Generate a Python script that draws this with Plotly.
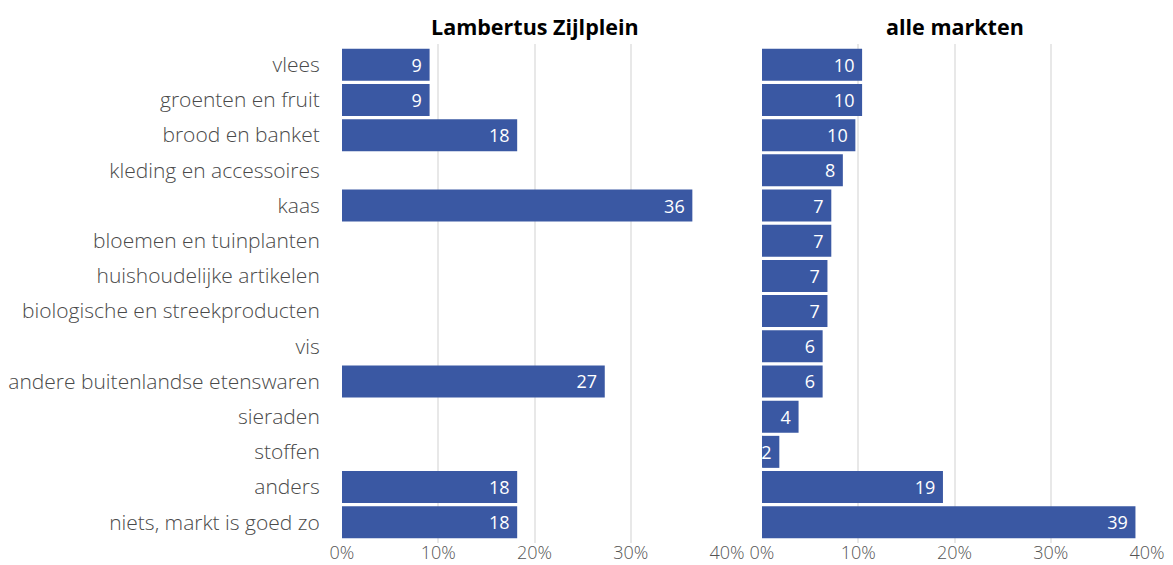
import plotly.graph_objects as go

categories = [
    "vlees", "groenten en fruit", "brood en banket", "kleding en accessoires",
    "kaas", "bloemen en tuinplanten", "huishoudelijke artikelen",
    "biologische en streekproducten", "vis", "andere buitenlandse etenswaren",
    "sieraden", "stoffen", "anders", "niets, markt is goed zo",
]
lambertus = [9.1, 9.1, 18.2, 0, 36.4, 0, 0, 0, 0, 27.3, 0, 0, 18.2, 18.2]
alle = [10.4, 10.4, 9.7, 8.4, 7.2, 7.2, 6.8, 6.8, 6.3, 6.3, 3.8, 1.8, 18.8, 38.8]
panel_titles = ["Lambertus Zijlplein", "alle markten"]
tick_vals = [0, 10, 20, 30, 40]
tick_text = ["0%", "10%", "20%", "30%", "40%"]

BAR = "#3A58A3"
FONT = "Open Sans"

def labels(vals):
    return [str(int(round(v))) + "\u00a0" if v > 0 else "" for v in vals]

fig = go.Figure()
for i, vals in enumerate([lambertus, alle]):
    fig.add_trace(go.Bar(
        x=vals, y=categories, orientation="h",
        marker=dict(color=BAR, line=dict(width=0)),
        text=labels(vals), textposition="inside", insidetextanchor="end",
        constraintext="none",
        textfont=dict(color="white", size=18, family=FONT),
        xaxis="x" if i == 0 else "x2", yaxis="y" if i == 0 else "y2",
        showlegend=False, hoverinfo="skip", cliponaxis=False,
    ))

d1 = 385 / 805
d2 = 420 / 805
n = len(categories)
yrange = [n - 1 + 0.59, -0.59]
axis_common = dict(range=[0, 40], tickvals=tick_vals, ticktext=tick_text,
                   showgrid=True, gridcolor="#e8e8e8", gridwidth=1.5,
                   zeroline=False, showline=False, automargin=False,
                   tickfont=dict(size=18, color="#555555", family=FONT, weight=300),
                   ticks="", ticklen=0, ticklabelstandoff=-3)
fig.update_layout(
    width=1173, height=565,
    margin=dict(l=342, r=26, t=44, b=22),
    plot_bgcolor="white", paper_bgcolor="white",
    bargap=0.09,
    xaxis=dict(domain=[0, d1], **axis_common),
    xaxis2=dict(domain=[d2, 1], anchor="y2", **axis_common),
    yaxis=dict(range=yrange, showgrid=False, zeroline=False, automargin=False,
               ticks="outside", ticklen=17, tickcolor="rgba(0,0,0,0)",
               tickfont=dict(size=21, color="#4a4a4a", family=FONT, weight=300)),
    yaxis2=dict(range=yrange, showgrid=False, zeroline=False, automargin=False,
                showticklabels=False, anchor="x2"),
    font=dict(family=FONT),
    annotations=[
        dict(text="<b>" + panel_titles[0] + "</b>", x=(0 + d1) / 2, y=1, xref="paper", yref="paper",
             xanchor="center", yanchor="bottom", yshift=1, showarrow=False,
             font=dict(size=21.5, color="black", family=FONT)),
        dict(text="<b>" + panel_titles[1] + "</b>", x=(d2 + 1) / 2, y=1, xref="paper", yref="paper",
             xanchor="center", yanchor="bottom", yshift=1, showarrow=False,
             font=dict(size=21.5, color="black", family=FONT)),
    ],
)
fig.write_html("out.html", config={"displayModeBar": False},
               post_script="document.body.style.margin='0';")
